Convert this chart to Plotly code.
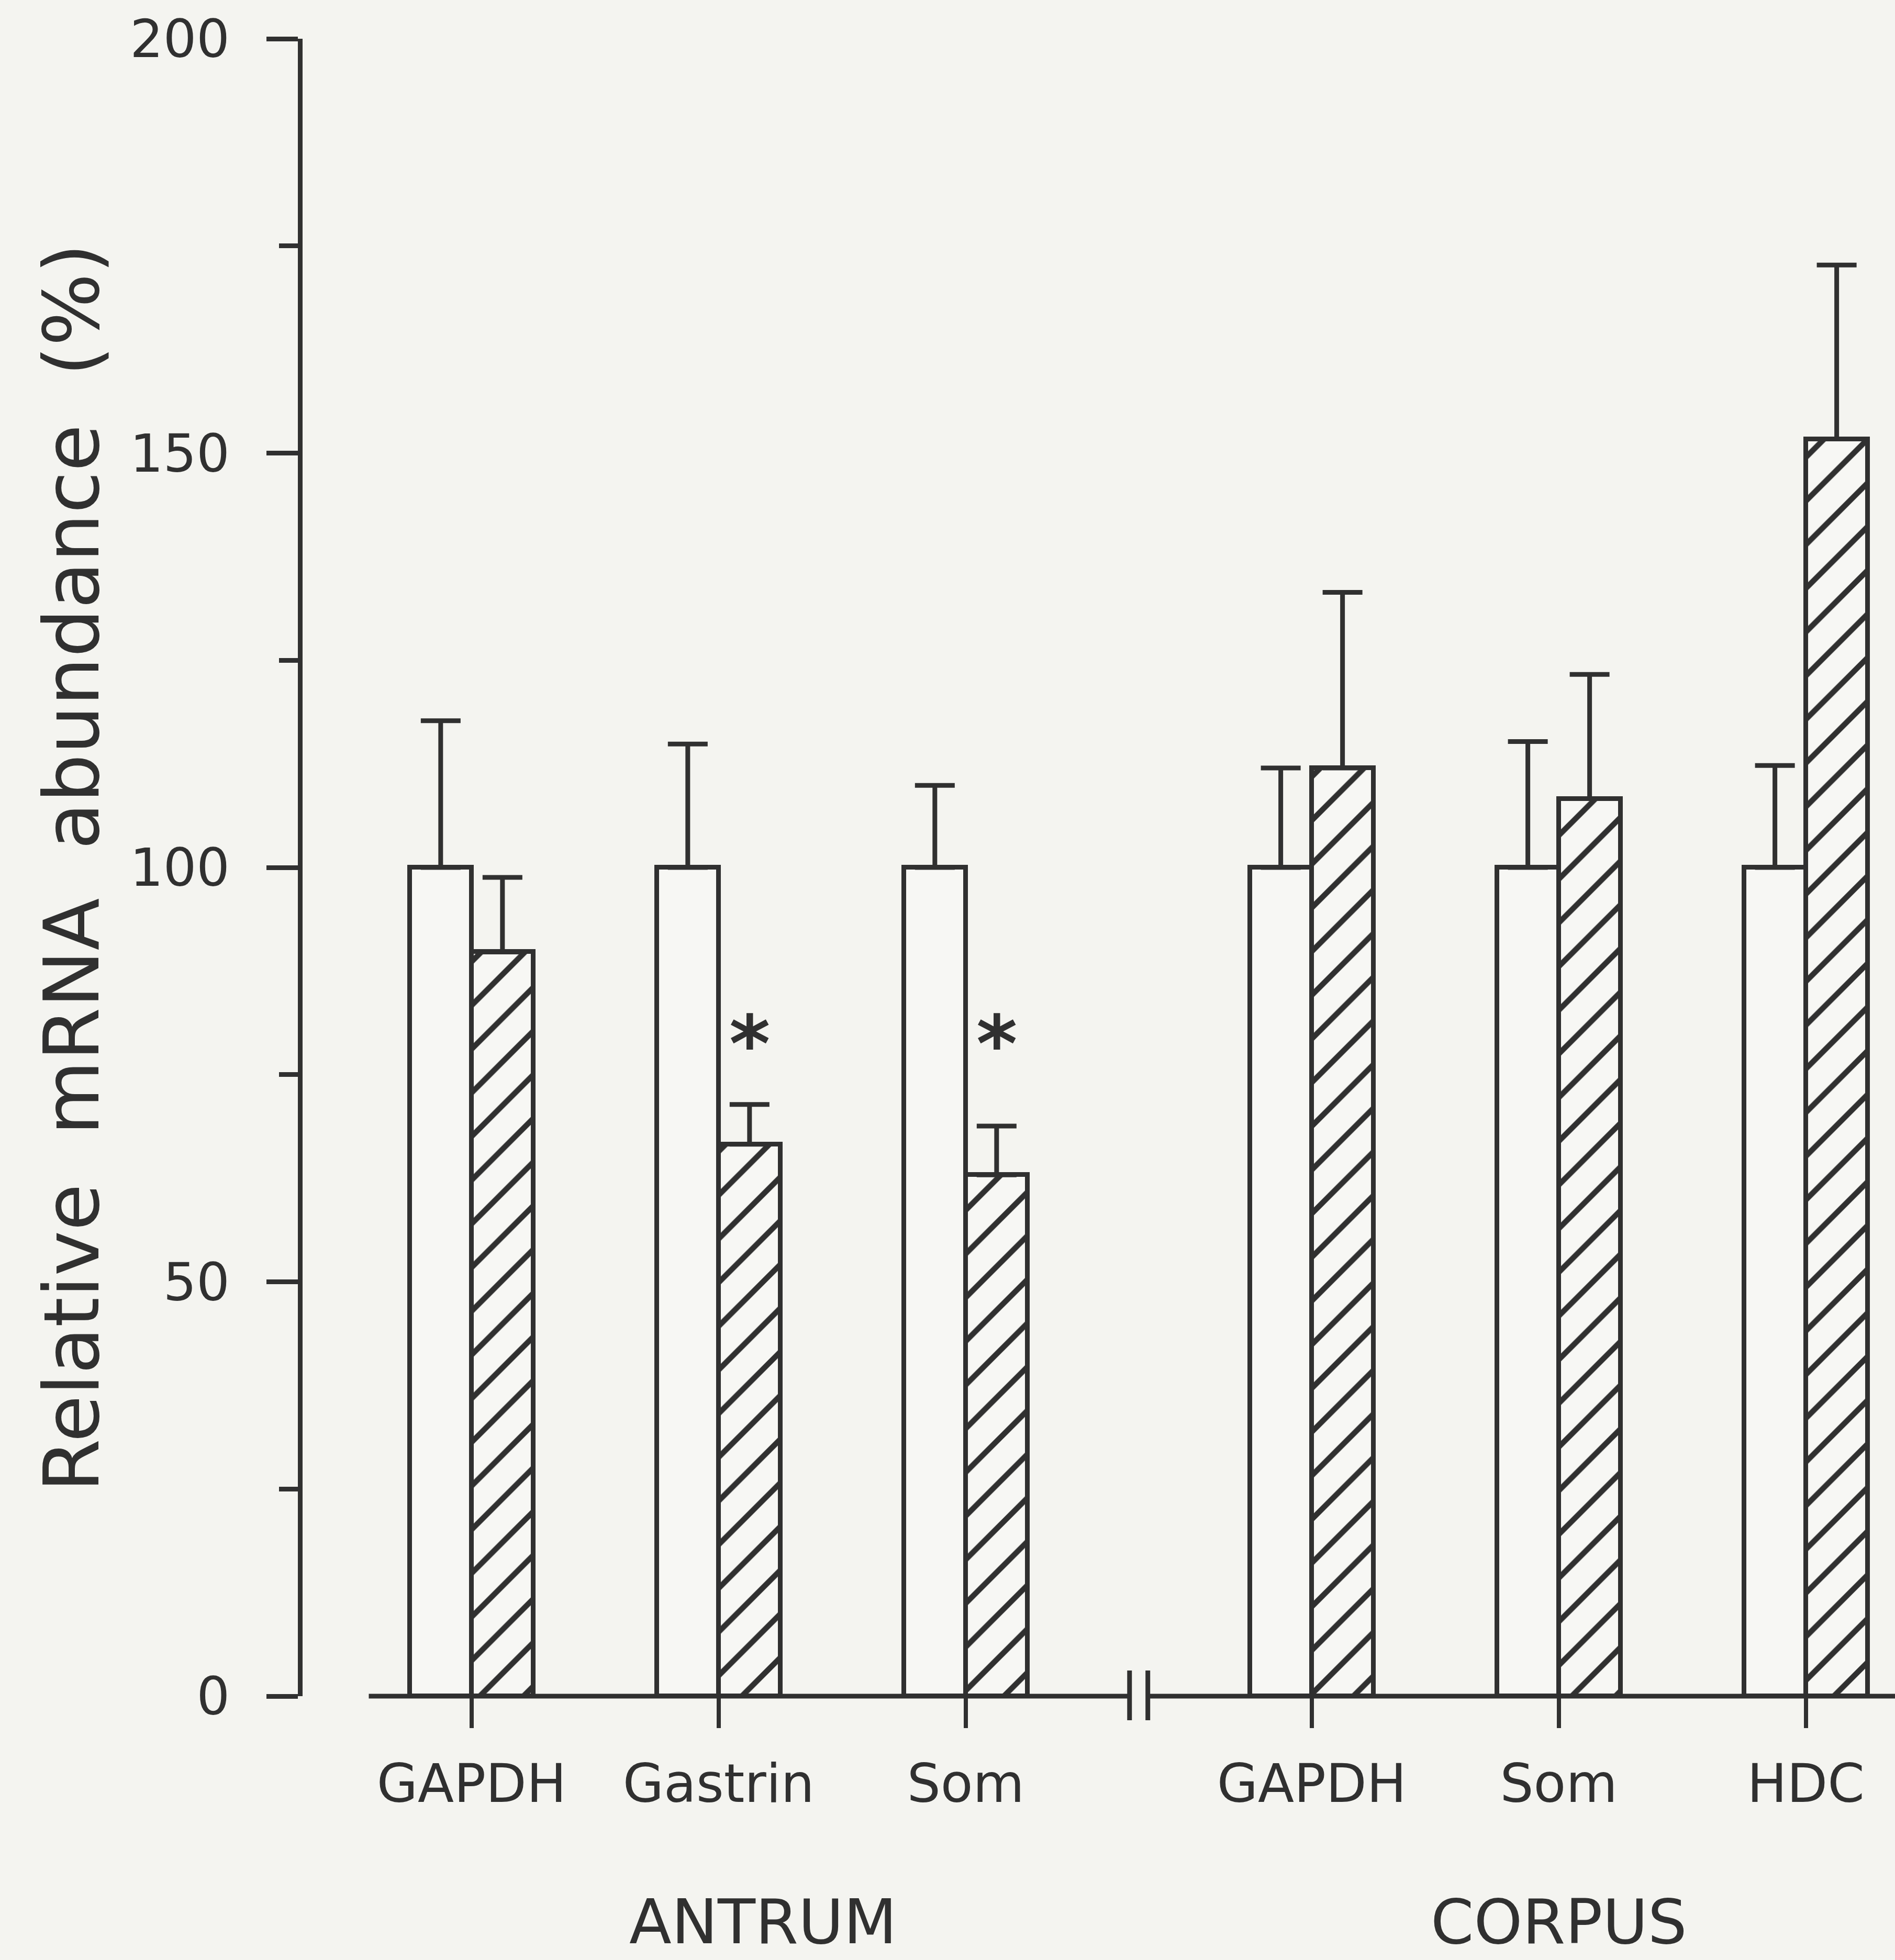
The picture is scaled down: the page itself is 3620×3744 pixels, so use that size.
import plotly.graph_objects as go

# ---------------- data ----------------
genes = ["GAPDH", "Gastrin", "Som", "GAPDH", "Som", "HDC"]
regions = ["ANTRUM", "ANTRUM", "ANTRUM", "CORPUS", "CORPUS", "CORPUS"]
control = [100, 100, 100, 100, 100, 100]
control_err_top = [117.7, 114.9, 109.9, 112.0, 115.2, 112.3]
treated = [89.8, 66.6, 62.9, 112.0, 108.3, 151.7]
treated_err_top = [98.8, 71.4, 68.8, 133.2, 123.3, 172.7]
significant = [False, True, True, False, False, False]
star_level = 80.4
y_ticks = [0, 50, 100, 150, 200]
y_max = 200

# ---------------- layout helpers ----------------
GAP = 1.4  # spacing between groups (in category units)
pos = []
for i, r in enumerate(regions):
    pos.append(i + 1 if r == "ANTRUM" else i + GAP)
BW = 0.25
INK = "#303030"
PAPER = "#f4f4f0"
BARFILL = "#f7f7f4"
FONT = "DejaVu Sans, Liberation Sans, Arial, sans-serif"
LW = 9

W, H = 3620, 3744
L, R, T, B = 578, 0, 74, 504
xr = [0.316, 6.761]
plot_h = H - T - B

def py(v):
    """data y -> paper y"""
    return v / y_max

fig = go.Figure()

fig.add_trace(go.Bar(
    x=pos, y=control, width=BW, offset=-BW,
    marker=dict(color=BARFILL, line=dict(color=INK, width=LW)),
    error_y=dict(type="data", symmetric=False,
                 array=[e - v for e, v in zip(control_err_top, control)],
                 arrayminus=[0] * len(control),
                 color=INK, thickness=LW, width=38),
    showlegend=False, cliponaxis=False,
))
fig.add_trace(go.Bar(
    x=pos, y=treated, width=BW, offset=0,
    marker=dict(color=BARFILL, line=dict(color=INK, width=LW),
                pattern=dict(shape="/", fgcolor=INK, fgopacity=1, bgcolor=BARFILL,
                             size=59, solidity=0.18, fillmode="overlay")),
    error_y=dict(type="data", symmetric=False,
                 array=[e - v for e, v in zip(treated_err_top, treated)],
                 arrayminus=[0] * len(treated),
                 color=INK, thickness=LW, width=38),
    showlegend=False, cliponaxis=False,
))

# significance stars
for p, s in zip(pos, significant):
    if s:
        fig.add_annotation(x=p + BW / 2, y=star_level, text="<b>*</b>", showarrow=False,
                           font=dict(family=FONT, size=150, color=INK),
                           xanchor="center", yanchor="middle", yshift=-28)

# x axis line with break
ant_pos = [p for p, r in zip(pos, regions) if r == "ANTRUM"]
cor_pos = [p for p, r in zip(pos, regions) if r == "CORPUS"]
brk = (ant_pos[-1] + cor_pos[0]) / 2
bh = 0.037
x_start = ant_pos[0] - 0.416
fig.add_shape(type="line", xref="x", yref="paper", x0=x_start, x1=brk - bh,
              y0=py(0), y1=py(0), line=dict(color=INK, width=LW))
fig.add_shape(type="line", xref="x", yref="paper", x0=brk + bh, x1=xr[1] + 0.2,
              y0=py(0), y1=py(0), line=dict(color=INK, width=LW))
for xb in (brk - bh, brk + bh):
    fig.add_shape(type="line", xref="x", yref="paper", x0=xb, x1=xb,
                  y0=py(-2.9), y1=py(3.1), line=dict(color=INK, width=LW))

# group labels (box bottom kept just inside the figure)
grp_y = -(B - 3) / plot_h
fig.add_annotation(x=sum(ant_pos) / len(ant_pos) + 0.18, xref="x", yref="paper",
                   y=grp_y, text="ANTRUM",
                   showarrow=False, font=dict(family=FONT, size=118, color=INK),
                   xanchor="center", yanchor="bottom", borderpad=0)
fig.add_annotation(x=sum(cor_pos) / len(cor_pos), xref="x", yref="paper",
                   y=grp_y, text="CORPUS",
                   showarrow=False, font=dict(family=FONT, size=118, color=INK),
                   xanchor="center", yanchor="bottom", borderpad=0)

# y title
fig.add_annotation(xref="paper", yref="paper", x=-0.145, y=0.5,
                   text="Relative\u00a0 mRNA\u00a0 abundance\u00a0 (%)",
                   textangle=-90, showarrow=False,
                   font=dict(family=FONT, size=146, color=INK),
                   xanchor="center", yanchor="middle")

fig.update_layout(
    width=W, height=H,
    margin=dict(l=L, r=R, t=T, b=B, pad=0),
    paper_bgcolor=PAPER, plot_bgcolor=PAPER,
    barmode="overlay", bargap=0,
    font=dict(family=FONT, color=INK),
    xaxis=dict(range=xr, tickmode="array", tickvals=pos, ticktext=genes,
               ticks="outside", ticklen=60, tickwidth=8, tickcolor=INK,
               showline=False, showgrid=False, zeroline=False,
               tickfont=dict(family=FONT, size=101, color=INK),
               ticklabelstandoff=20, fixedrange=True),
    yaxis=dict(range=[0, y_max], tickmode="array", tickvals=y_ticks,
               ticks="outside", ticklen=60, tickwidth=LW, tickcolor=INK,
               showline=True, linewidth=LW, linecolor=INK,
               showgrid=False, zeroline=False,
               minor=dict(dtick=25, ticks="outside", ticklen=36, tickwidth=LW, tickcolor=INK),
               tickfont=dict(family=FONT, size=100, color=INK),
               ticklabelstandoff=50, fixedrange=True),
)

fig.write_html("out.html", config={"displayModeBar": False},
               post_script="document.body.style.margin='0';")
